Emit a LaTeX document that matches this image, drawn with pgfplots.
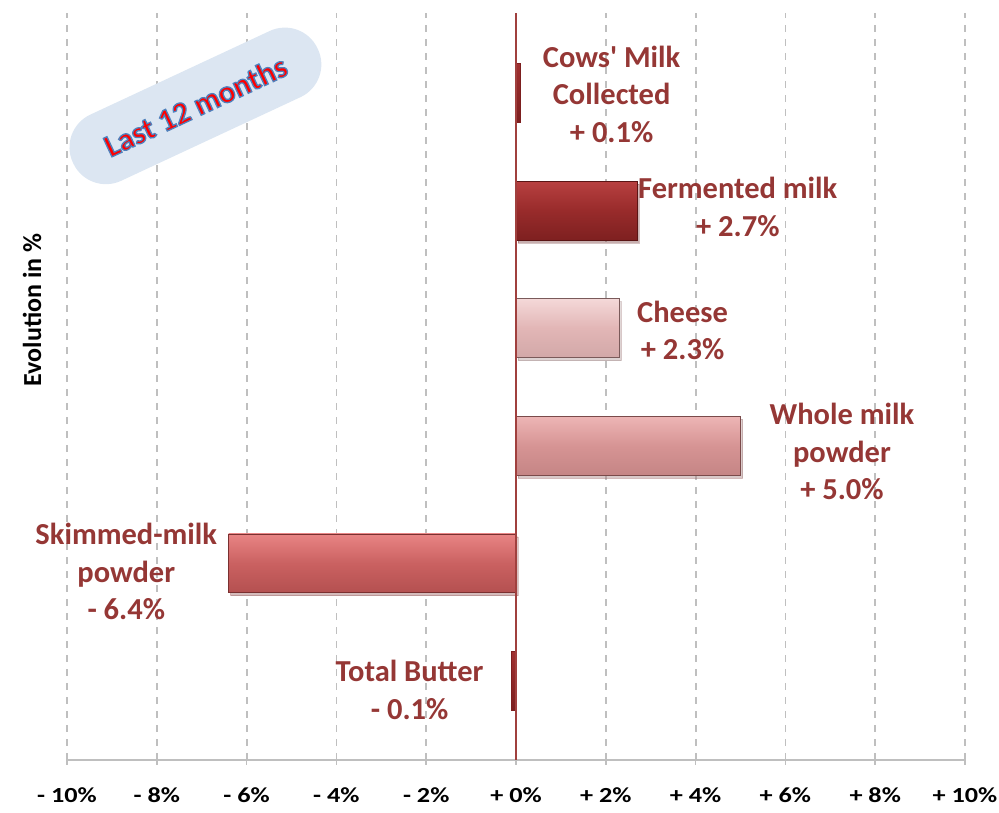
\documentclass[border=0pt]{standalone}
\usepackage{fontspec}
\setmainfont{Carlito}
\usepackage{pgfplots}
\pgfplotsset{compat=1.18}
\usetikzlibrary{shadows}
\definecolor{lab}{HTML}{953735}
\definecolor{gridgray}{HTML}{BFBFBF}
\definecolor{zeroc}{HTML}{A0403E}
\definecolor{badge}{HTML}{DCE6F2}
\definecolor{thin}{HTML}{7C1F1F}
\definecolor{thinT}{HTML}{A03030}
\definecolor{ferm}{HTML}{982B2B}
\definecolor{fermT}{HTML}{B84040}
\definecolor{fermB}{HTML}{7E2020}
\definecolor{fermD}{HTML}{5A1515}
\definecolor{chee}{HTML}{E2B6B6}
\definecolor{cheeT}{HTML}{F4D8D8}
\definecolor{cheeB}{HTML}{D2A8A8}
\definecolor{cheeD}{HTML}{7A5A5A}
\definecolor{whol}{HTML}{D69494}
\definecolor{wholT}{HTML}{EDB5B5}
\definecolor{wholB}{HTML}{C58585}
\definecolor{wholD}{HTML}{7A4A4A}
\definecolor{skim}{HTML}{CA6161}
\definecolor{skimT}{HTML}{E88484}
\definecolor{skimB}{HTML}{B45050}
\definecolor{skimD}{HTML}{7A3030}
\pgfplotsset{barsh/.style={/tikz/drop shadow={shadow xshift=2pt, shadow yshift=-3pt, opacity=0.25}}}
\begin{document}
\begin{tikzpicture}
\path[use as bounding box] (-67pt,-53pt) rectangle (932pt,760pt);
\begin{axis}[
  at={(0pt,0pt)}, anchor=south west,
  scale only axis, width=898pt, height=747pt,
  xmin=-10, xmax=10, ymin=-0.672, ymax=5.68,
  axis x line=bottom, axis y line=none,
  axis line style={-},
  x axis line style={-, draw=gridgray, line width=2pt},
  xtick={-10,-8,...,10},
  xticklabels={- 10\%,- 8\%,- 6\%,- 4\%,- 2\%,+ 0\%,+ 2\%,+ 4\%,+ 6\%,+ 8\%,+ 10\%},
  xticklabel style={font=\fontsize{21.5}{25}\selectfont\bfseries, text=black, xscale=1.22, yshift=-19pt},
  xtick align=center, major tick length=10pt,
  tick style={draw=gridgray, line width=1.5pt},
  xmajorgrids,
  grid style={draw=gridgray, line width=1.8pt, dash pattern=on 7pt off 7pt},
  ytick=\empty,
  xbar, bar shift=0pt, bar width=0.5,
  clip=false,
]
\addplot[draw=thin, line width=0.5pt, top color=thinT, bottom color=thin] coordinates {(0.1,5)};
\addplot[barsh, draw=fermD, line width=0.8pt, top color=fermT, bottom color=fermB, middle color=ferm] coordinates {(2.7,4)};
\addplot[barsh, draw=cheeD, line width=0.8pt, top color=cheeT, bottom color=cheeB, middle color=chee] coordinates {(2.3,3)};
\addplot[barsh, draw=wholD, line width=0.8pt, top color=wholT, bottom color=wholB, middle color=whol] coordinates {(5.0,2)};
\addplot[barsh, draw=skimD, line width=0.8pt, top color=skimT, bottom color=skimB, middle color=skim] coordinates {(-6.4,1)};
\addplot[draw=thin, line width=0.5pt, top color=thinT, bottom color=thin] coordinates {(-0.1,0)};
\addplot[sharp plot, no marks, draw=zeroc, line width=1.5pt] coordinates {(0,-0.672) (0,5.68)};

\begin{scope}[every node/.style={align=center, text=lab, font=\fontsize{30.5}{37.5}\selectfont\bfseries}]
\node at (axis cs:2.13,4.99) {Cows\textquotesingle\ Milk\\Collected\\+ 0.1\%};
\node at (axis cs:4.94,4.03) {Fermented milk\\+ 2.7\%};
\node at (axis cs:3.71,2.98) {Cheese\\+ 2.3\%};
\node at (axis cs:7.26,1.95) {Whole milk\\powder\\+ 5.0\%};
\node at (axis cs:-8.68,0.93) {Skimmed-milk\\powder\\- 6.4\%};
\node at (axis cs:-2.37,-0.077) {Total Butter\\- 0.1\%};
\end{scope}
\node[rotate=25, fill=badge, rounded corners=36pt, minimum width=270pt, minimum height=73pt, inner sep=0pt]
  at (axis cs:-7.14,4.89) {\fontsize{31.5}{36}\selectfont\bfseries\color{red}\special{pdf:code 2 Tr 1.3 w 0.31 0.506 0.741 RG}Last 12 months\special{pdf:code 0 Tr}};
\end{axis}
\node[rotate=90, font=\fontsize{26}{30}\selectfont\bfseries] at (-35pt,450pt) {Evolution in \%};
\end{tikzpicture}
\end{document}
